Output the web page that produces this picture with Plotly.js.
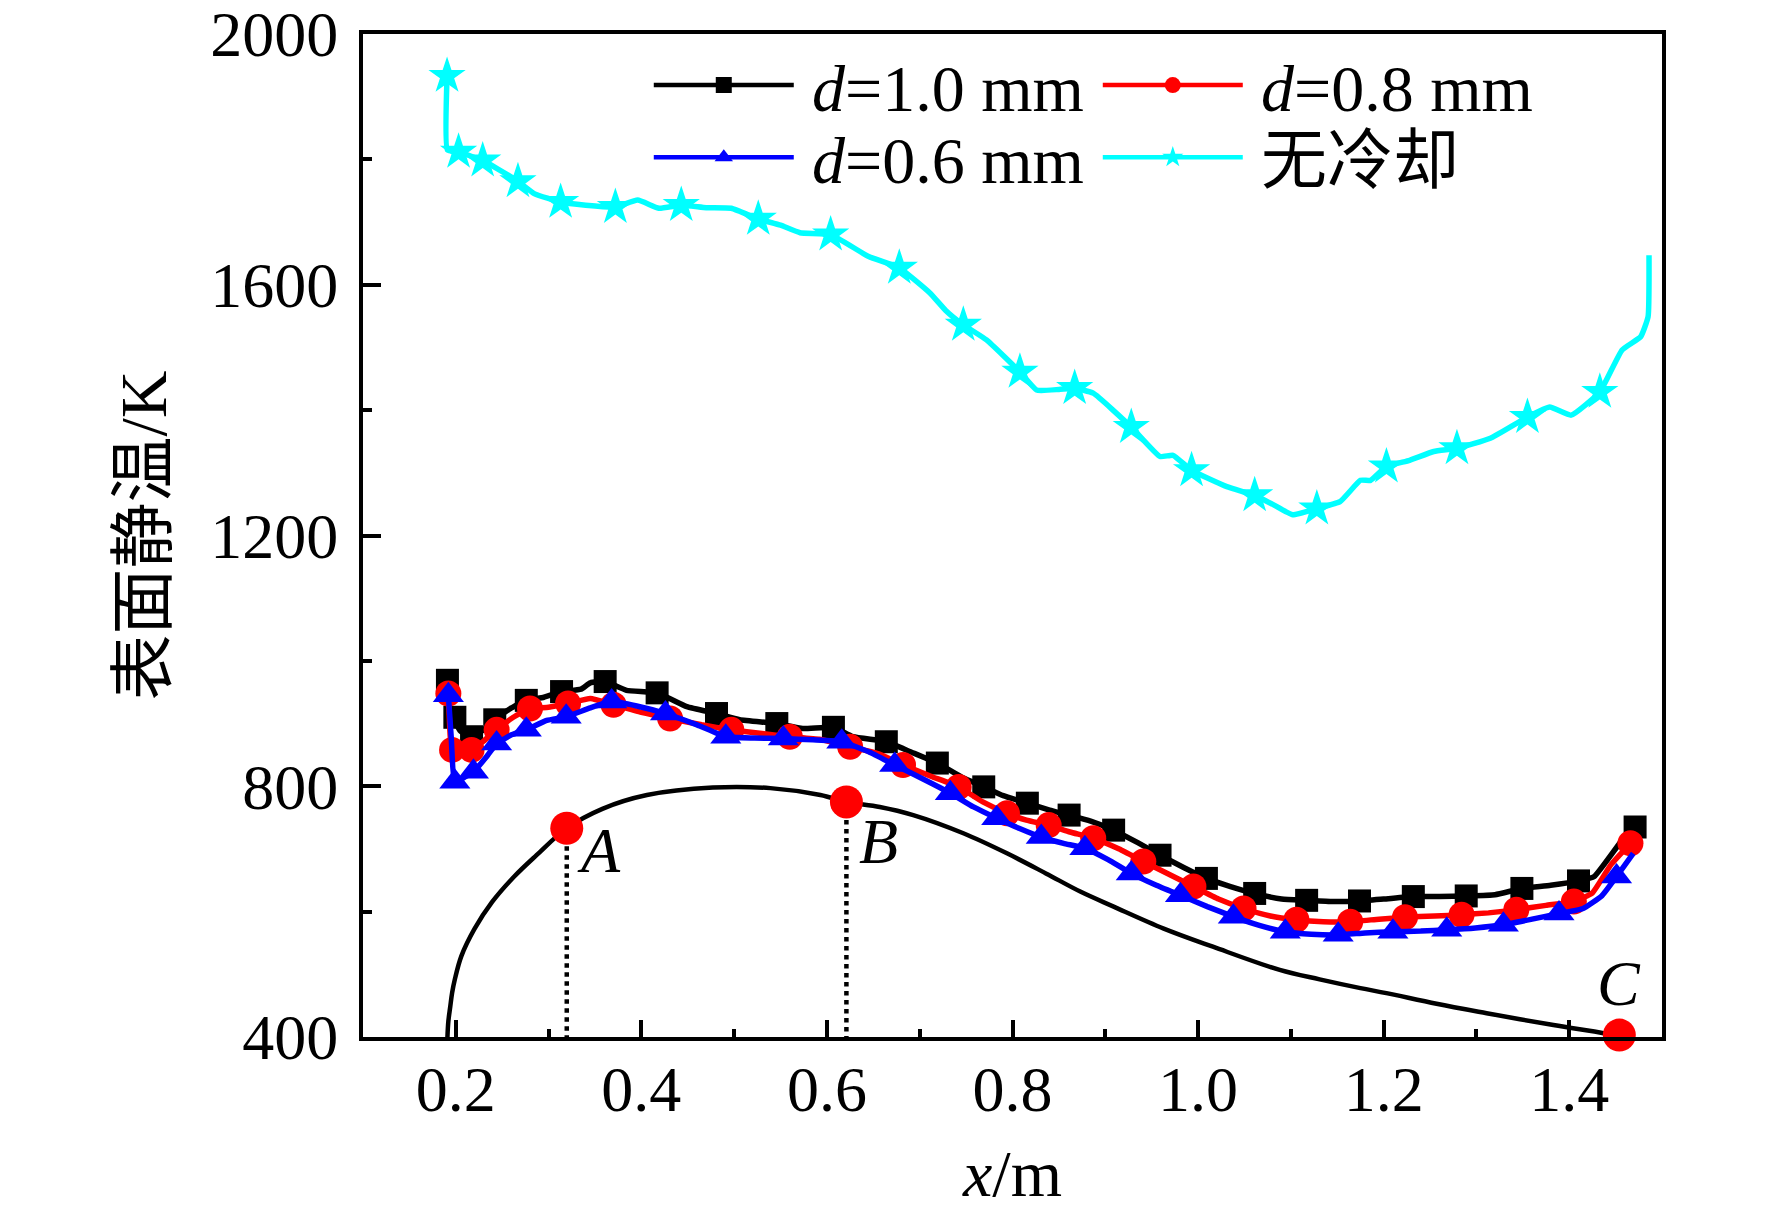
<!DOCTYPE html>
<html>
<head>
<meta charset="utf-8">
<script src="https://cdn.plot.ly/plotly-3.0.1.min.js"></script>
<style>html,body{margin:0;padding:0;background:#fff;}</style>
</head>
<body>
<div id="chart" style="width:1772px;height:1210px;"></div>
<script>
// ---- data ----
const seriesNames = ['<i>d</i>=1.0 mm', '<i>d</i>=0.8 mm', '<i>d</i>=0.6 mm', '无冷却'];

// d = 1.0 mm (line)
const d10X = [0.191,0.192,0.197,0.205,0.217,0.230,0.242,0.260,0.276,0.295,0.314,0.335,0.345,0.361,0.384,0.417,0.449,0.481,0.506,0.546,0.574,0.607,0.628,0.664,0.690,0.719,0.745,0.769,0.790,0.816,0.840,0.861,0.885,0.909,0.935,0.959,0.985,1.009,1.035,1.061,1.090,1.117,1.145,1.174,1.200,1.232,1.260,1.289,1.320,1.349,1.380,1.410,1.427,1.457,1.471];
const d10Y = [969,935,910,888,879,890,906,925,937,942,951,955,965,967,953,949,927,916,906,900,892,894,879,871,855,837,815,799,785,773,762,754,744,730,710,690,670,653,640,629,620,618,616,617,620,624,624,625,627,637,642,649,656,714,735];
// d = 1.0 mm (markers)
const d10MX = [0.191,0.199,0.217,0.242,0.276,0.314,0.361,0.417,0.481,0.546,0.607,0.664,0.719,0.769,0.816,0.861,0.909,0.959,1.009,1.061,1.117,1.174,1.232,1.289,1.349,1.410,1.471];
const d10MY = [969,910,879,906,937,951,967,949,916,900,894,871,837,799,773,754,730,690,653,629,618,617,624,625,637,649,735];

// d = 0.8 mm (line)
const d08X = [0.192,0.194,0.196,0.205,0.217,0.230,0.244,0.262,0.280,0.300,0.321,0.345,0.370,0.400,0.431,0.465,0.497,0.530,0.560,0.592,0.625,0.655,0.682,0.712,0.742,0.768,0.794,0.815,0.839,0.862,0.887,0.915,0.941,0.968,0.995,1.022,1.049,1.078,1.106,1.135,1.164,1.195,1.223,1.255,1.284,1.313,1.343,1.375,1.405,1.425,1.445,1.466];
const d08Y = [948,880,858,850,858,872,890,910,924,926,932,940,930,918,908,898,890,884,879,875,863,852,834,816,799,775,757,746,738,727,717,700,680,660,640,620,605,593,587,584,584,588,591,593,595,598,603,610,616,630,675,709];
// d = 0.8 mm (markers)
const d08MX = [0.192,0.196,0.217,0.244,0.280,0.321,0.370,0.431,0.497,0.560,0.625,0.682,0.742,0.794,0.839,0.887,0.941,0.995,1.049,1.106,1.164,1.223,1.284,1.343,1.405,1.466];
const d08MY = [948,858,858,890,924,932,930,908,890,879,863,834,799,757,738,717,680,640,605,587,584,591,595,603,616,709];

// d = 0.6 mm (line)
const d06X = [0.192,0.195,0.199,0.210,0.219,0.232,0.244,0.260,0.276,0.298,0.319,0.345,0.368,0.395,0.426,0.460,0.491,0.522,0.553,0.585,0.616,0.645,0.673,0.703,0.733,0.758,0.783,0.807,0.831,0.855,0.878,0.903,0.928,0.955,0.981,1.010,1.038,1.066,1.094,1.122,1.151,1.180,1.210,1.240,1.268,1.299,1.329,1.360,1.389,1.415,1.435,1.451,1.469];
const d06Y = [945,880,807,815,823,845,868,882,890,905,911,925,935,928,916,898,879,877,876,874,871,855,834,812,789,767,749,733,719,709,701,683,661,642,626,608,592,578,568,564,563,566,568,569,571,574,579,588,597,605,625,656,693];
// d = 0.6 mm (markers)
const d06MX = [0.192,0.199,0.219,0.244,0.276,0.319,0.368,0.426,0.491,0.553,0.616,0.673,0.733,0.783,0.831,0.878,0.928,0.981,1.038,1.094,1.151,1.210,1.268,1.329,1.389,1.451];
const d06MY = [945,807,823,868,890,911,935,916,879,876,871,834,789,749,719,701,661,626,592,568,563,568,571,579,597,656];

// no cooling (line)
const ncX = [0.1906,0.1910,0.203,0.229,0.245,0.267,0.285,0.313,0.340,0.372,0.396,0.419,0.443,0.470,0.497,0.526,0.550,0.571,0.604,0.645,0.678,0.711,0.728,0.747,0.772,0.808,0.826,0.850,0.867,0.887,0.928,0.959,0.973,0.993,1.031,1.061,1.080,1.102,1.128,1.153,1.175,1.186,1.203,1.228,1.254,1.279,1.315,1.355,1.379,1.402,1.433,1.457,1.477,1.485,1.486];
const ncY = [1933,1815,1812,1798,1785,1765,1745,1732,1727,1724,1735,1722,1727,1723,1722,1705,1695,1683,1680,1645,1627,1587,1559,1536,1512,1461,1432,1433,1435,1427,1373,1326,1328,1304,1278,1264,1250,1233,1243,1254,1288,1288,1310,1320,1334,1339,1355,1389,1405,1392,1429,1496,1517,1549,1647];
// no cooling (markers)
const ncMX = [0.1906,0.203,0.229,0.267,0.313,0.372,0.443,0.526,0.604,0.678,0.747,0.808,0.867,0.928,0.993,1.061,1.128,1.203,1.279,1.355,1.433];
const ncMY = [1933,1812,1798,1765,1732,1724,1727,1705,1680,1627,1536,1461,1435,1373,1304,1264,1243,1310,1339,1389,1429];

// body profile curve
const profX = [0.191,0.192,0.194,0.196,0.199,0.206,0.220,0.239,0.263,0.287,0.3196,0.358,0.406,0.477,0.539,0.593,0.621,0.657,0.693,0.747,0.794,0.836,0.873,0.909,0.963,1.016,1.088,1.131,1.175,1.203,1.257,1.311,1.383,1.437,1.454];
const profY = [400,425,448,470,492,529,572,615,656,690,733,764,786,798,797,786,775,767,754,725,693,661,632,608,573,544,507,492,478,470,453,438,419,406,401];

// points A, B, C
const ptLabels = ['A','B','C'];
const ptX = [0.3196, 0.621, 1.454];
const ptY = [733, 775, 403];
const baseY = 400;

// axis ticks
const xTickVals = [0.2,0.4,0.6,0.8,1.0,1.2,1.4];
const xTickText = ['0.2','0.4','0.6','0.8','1.0','1.2','1.4'];
const yTickVals = [400,800,1200,1600,2000];
const yTickText = ['400','800','1200','1600','2000'];

// ---- build traces ----
const FONT = 'Liberation Serif, "Times New Roman", "Noto Sans CJK SC", serif';
const LW = 5.5;
const traces = [];

// profile
traces.push({x: profX, y: profY, mode: 'lines', line: {color: '#000', width: 4.5, shape: 'spline', smoothing: 1.0},
  showlegend: false, hoverinfo: 'skip'});
// dotted drop lines A, B
[0,1].forEach(i => {
  traces.push({x: [ptX[i], ptX[i]], y: [ptY[i], baseY], mode: 'lines',
    line: {color: '#000', width: 4.5, dash: 'dot'}, showlegend: false, hoverinfo: 'skip'});
});

const series = [
  {name: seriesNames[3], lx: ncX, ly: ncY, mx: ncMX, my: ncMY, color: '#00ffff', sym: 'star', size: 28, legend: 'legend2'},
  {name: seriesNames[0], lx: d10X, ly: d10Y, mx: d10MX, my: d10MY, color: '#000000', sym: 'square', size: 23, legend: 'legend'},
  {name: seriesNames[1], lx: d08X, ly: d08Y, mx: d08MX, my: d08MY, color: '#ff0000', sym: 'circle', size: 26, legend: 'legend'},
  {name: seriesNames[2], lx: d06X, ly: d06Y, mx: d06MX, my: d06MY, color: '#0000ff', sym: 'triangle-up', size: 27, legend: 'legend2'}
];
series.forEach(s => {
  traces.push({x: s.lx, y: s.ly, mode: 'lines', line: {color: s.color, width: LW, shape: 'spline', smoothing: 0.4},
    showlegend: false, hoverinfo: 'skip', cliponaxis: false});
  traces.push({x: s.mx, y: s.my, mode: 'markers', marker: {color: s.color, symbol: s.sym, size: s.size, line: {width: 0}},
    showlegend: false, cliponaxis: false});
});

// legend entries (row 1 -> d=1.0, d=0.8 ; row 2 -> d=0.6, 无冷却)
const legendOrder = [1, 2, 3, 0];
legendOrder.forEach(k => {
  const s = series[k];
  traces.push({x: [null], y: [null], name: '\u2009' + s.name, mode: 'lines+markers', legend: s.legend,
    line: {color: s.color, width: 4.5}, marker: {color: s.color, symbol: s.sym, size: s.size}});
});

// points A, B, C
traces.push({x: ptX, y: ptY, mode: 'markers', marker: {color: '#ff0000', size: 33}, showlegend: false, cliponaxis: false});

const labelShift = [[32, -22], [32, -40], [0, 52]];
const annotations = ptLabels.map((t, i) => ({
  x: ptX[i], y: ptY[i], xref: 'x', yref: 'y', text: '<i>' + t + '</i>', showarrow: false,
  xshift: labelShift[i][0], yshift: labelShift[i][1], font: {family: FONT, size: 64, color: '#000'}
}));

const legendCommon = {
  orientation: 'h', xanchor: 'left', yanchor: 'middle', bgcolor: 'rgba(0,0,0,0)', borderwidth: 0,
  font: {family: FONT, size: 66, color: '#000'}, itemwidth: 140, entrywidth: 294, entrywidthmode: 'pixels',
  itemclick: false, itemdoubleclick: false, traceorder: 'normal'
};

const layout = {
  width: 1772, height: 1210,
  margin: {l: 363, r: 110, t: 34, b: 173, pad: 0},
  paper_bgcolor: '#fff', plot_bgcolor: '#fff',
  font: {family: FONT, size: 62, color: '#000'},
  showlegend: true,
  legend: Object.assign({}, legendCommon, {x: 0.220, y: 0.949}),
  legend2: Object.assign({}, legendCommon, {x: 0.220, y: 0.877}),
  xaxis: {
    range: [0.1, 1.5], tickvals: xTickVals, ticktext: xTickText,
    ticks: 'inside', ticklen: 17, tickwidth: 4, tickcolor: '#000',
    minor: {dtick: 0.1, tick0: 0.1, ticks: 'inside', ticklen: 8, tickwidth: 4, tickcolor: '#000'},
    showline: true, linewidth: 4, linecolor: '#000', mirror: true,
    showgrid: false, zeroline: false, ticklabeloverflow: 'allow',
    tickfont: {family: FONT, size: 64, color: '#000'}, ticklabelstandoff: -7,
    title: {text: '<i>x</i>/m', font: {family: FONT, size: 66, color: '#000'}, standoff: 39},
    automargin: false
  },
  yaxis: {
    range: [400, 2000], tickvals: yTickVals, ticktext: yTickText,
    ticks: 'inside', ticklen: 18, tickwidth: 4, tickcolor: '#000',
    minor: {dtick: 200, tick0: 400, ticks: 'inside', ticklen: 9, tickwidth: 4, tickcolor: '#000'},
    showline: true, linewidth: 4, linecolor: '#000', mirror: true,
    showgrid: false, zeroline: false, ticklabeloverflow: 'allow',
    tickfont: {family: FONT, size: 64, color: '#000'}, ticklabelstandoff: 8,
    title: {text: '表面静温/K', font: {family: FONT, size: 66, color: '#000'}, standoff: 23},
    automargin: false
  },
  annotations: annotations
};

Plotly.newPlot('chart', traces, layout, {displayModeBar: false, staticPlot: true});
</script>
</body>
</html>
